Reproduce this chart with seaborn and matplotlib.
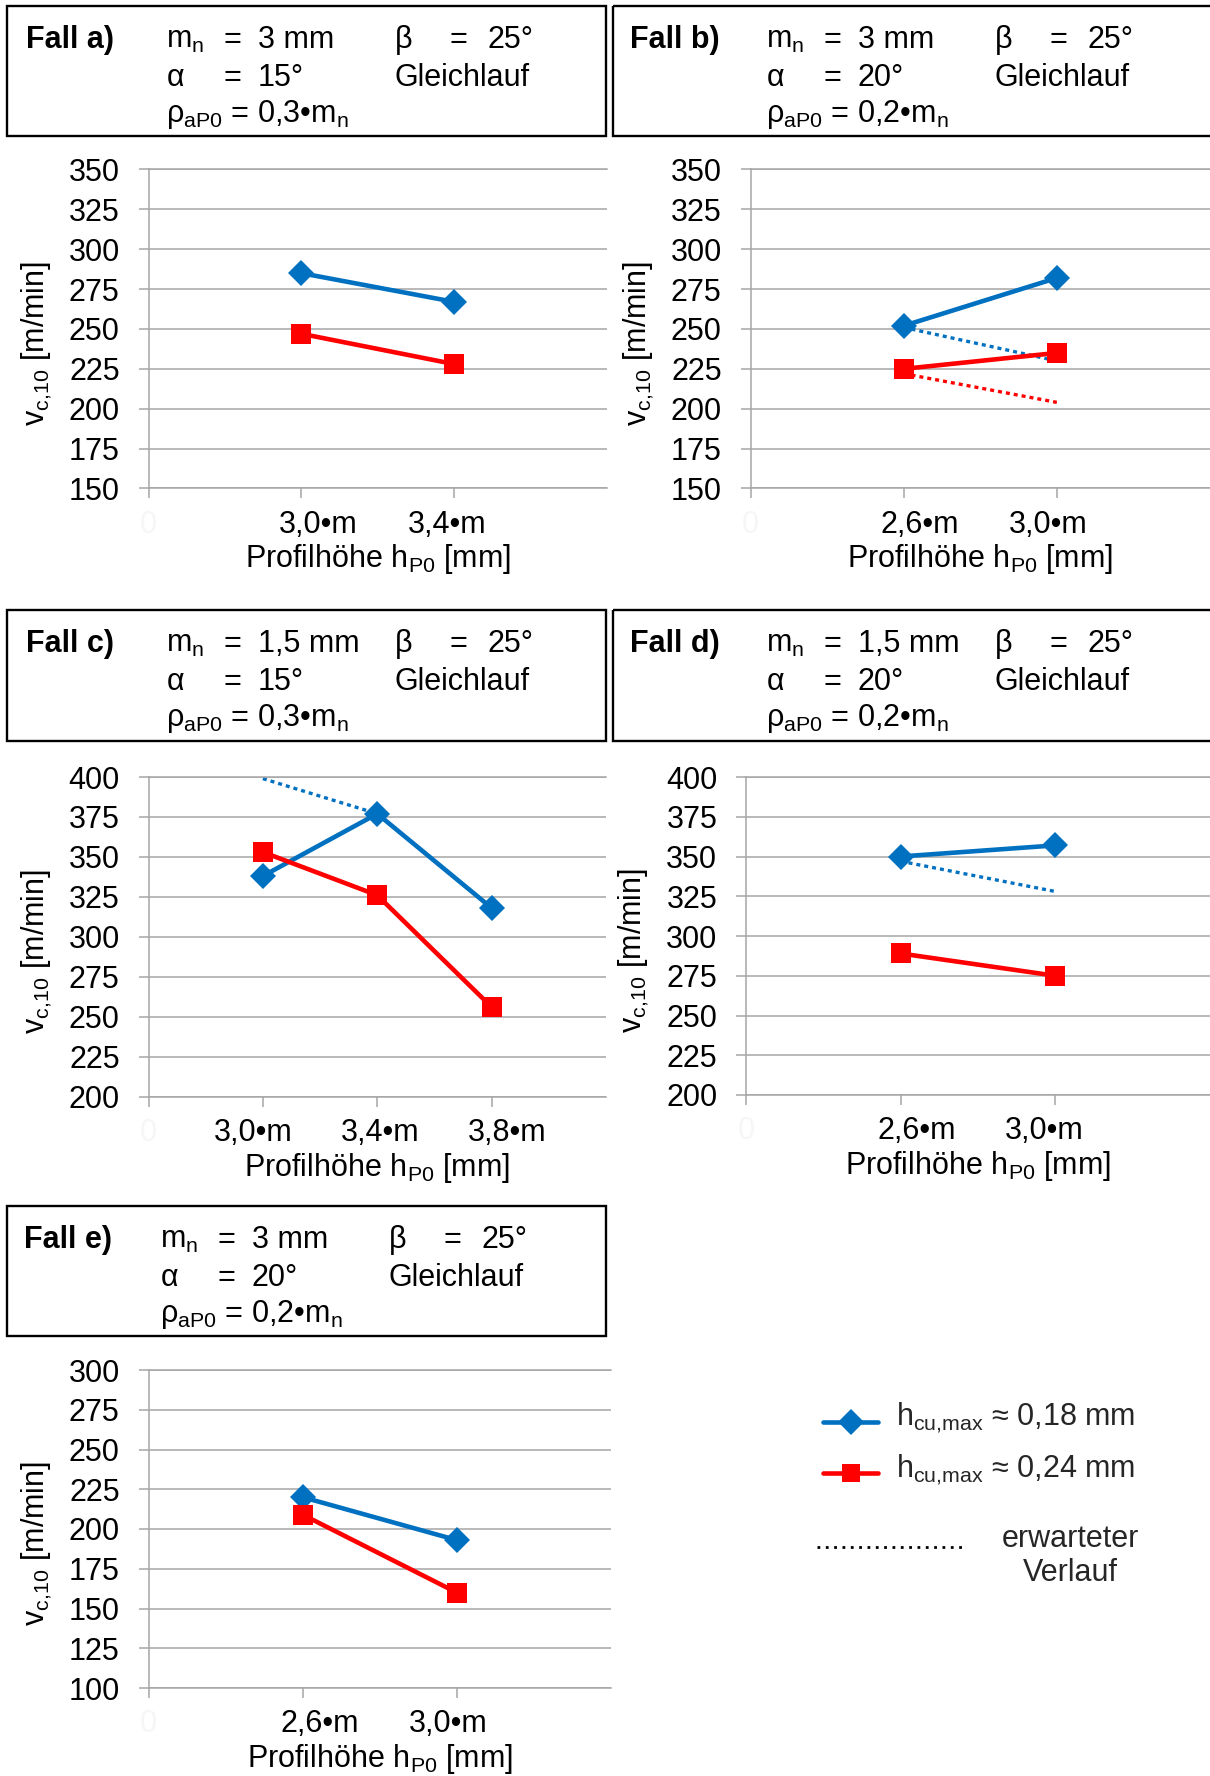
import numpy as np
import matplotlib
matplotlib.use("Agg")
import matplotlib.pyplot as plt
from matplotlib.patches import Rectangle
from matplotlib.transforms import ScaledTranslation
import seaborn as sns

# ---------------------------------------------------------------- data
case_a_ticks = ["3,0•m", "3,4•m"]
case_a_blue = [285, 267]
case_a_red = [247, 228]

case_b_ticks = ["2,6•m", "3,0•m"]
case_b_blue = [252, 282]
case_b_red = [225, 235]
case_b_blue_expected = [251, 230]
case_b_red_expected = [222, 204]

case_c_ticks = ["3,0•m", "3,4•m", "3,8•m"]
case_c_blue = [338, 377, 318]
case_c_red = [353, 326, 256]
case_c_blue_expected = [399, 377]

case_d_ticks = ["2,6•m", "3,0•m"]
case_d_blue = [350, 357]
case_d_red = [289, 275]
case_d_blue_expected = [347, 328]

case_e_ticks = ["2,6•m", "3,0•m"]
case_e_blue = [220, 193]
case_e_red = [209, 160]

y_range_ab = (150, 350)
y_range_cd = (200, 400)
y_range_e = (100, 300)

case_names = ["Fall a)", "Fall b)", "Fall c)", "Fall d)", "Fall e)"]
case_module = ["3 mm", "3 mm", "1,5 mm", "1,5 mm", "3 mm"]
case_alpha = ["15°", "20°", "15°", "20°", "20°"]
case_rho = ["0,3", "0,2", "0,3", "0,2", "0,2"]

legend_labels = [r"h$_\mathregular{cu{,}max}$ ≈ 0,18 mm",
                 r"h$_\mathregular{cu{,}max}$ ≈ 0,24 mm",
                 "erwarteter\nVerlauf"]

# ---------------------------------------------------------------- style
W, H, DPI = 1210, 1776, 100
BLUE, RED, GRID = "#0070C0", "#FF0000", "#A6A6A6"
TICK_FS, LABEL_FS, BOX_FS = 22, 22, 22
LW, DIAMOND_MS, SQUARE_MS = 3.3, 13.5, 15
DOTS = (0, (1.2, 1.2))

sns.set_theme(style="white")
plt.rcParams["font.family"] = ["Liberation Sans", "DejaVu Sans"]
plt.rcParams["mathtext.fontset"] = "custom"
plt.rcParams["mathtext.rm"] = "Liberation Sans"

fig = plt.figure(figsize=(W / DPI, H / DPI), dpi=DPI)
fig.patch.set_facecolor("white")

# pixel layout of each case: axes box (l, t, r, b), framed header (l, t, r, b)
layout = [
    dict(axes=(148.5, 169.5, 607, 488.5), box=(6.5, 6, 605.5, 136), dx=0, tick_dx=[17, -7]),
    dict(axes=(750.5, 169.5, 1210, 488.5), box=(612.5, 6, 1214, 136), dx=-6, tick_dx=[16, -9]),
    dict(axes=(148.5, 777, 606, 1096.5), box=(6.5, 609.5, 605.5, 741), dx=0, tick_dx=[-10, 3, 16]),
    dict(axes=(746, 777, 1210, 1095), box=(612.5, 609.5, 1214, 741), dx=-6, tick_dx=[16, -11]),
    dict(axes=(148.5, 1370, 611, 1688), box=(6.5, 1205.5, 605.5, 1336), dx=-6, tick_dx=[17, -9]),
]

cases = [
    (case_a_ticks, case_a_blue, case_a_red, [], y_range_ab),
    (case_b_ticks, case_b_blue, case_b_red,
     [(BLUE, case_b_blue_expected), (RED, case_b_red_expected)], y_range_ab),
    (case_c_ticks, case_c_blue, case_c_red, [(BLUE, case_c_blue_expected)], y_range_cd),
    (case_d_ticks, case_d_blue, case_d_red, [(BLUE, case_d_blue_expected)], y_range_cd),
    (case_e_ticks, case_e_blue, case_e_red, [], y_range_e),
]


def add_px_axes(l, t, r, b):
    return fig.add_axes([l / W, 1 - b / H, (r - l) / W, (b - t) / H])


def draw_case(ax, ax_px, ticks, blue, red, expected, yrange, tick_dx):
    n = len(ticks)
    pos = np.arange(1, n + 1)
    for color, vals in expected:
        sns.lineplot(x=pos[:len(vals)], y=vals, ax=ax, color=color,
                     linewidth=2.4, linestyle=DOTS, zorder=2)
    sns.lineplot(x=pos, y=blue, ax=ax, color=BLUE, linewidth=LW, marker="D",
                 markersize=DIAMOND_MS, markeredgewidth=0, zorder=3)
    sns.lineplot(x=pos, y=red, ax=ax, color=RED, linewidth=LW, marker="s",
                 markersize=SQUARE_MS, markeredgewidth=0, zorder=4)

    ax.set_xlim(0, n + 1)
    ax.set_ylim(*yrange)
    ax.set_yticks(np.arange(yrange[0], yrange[1] + 1, 25))
    ax.set_xticks(np.arange(0, n + 1))
    ax.set_xticklabels(["0"] + list(ticks))
    ax.set_axisbelow(True)
    ax.grid(axis="y", color=GRID, linewidth=1.1)
    ax.grid(axis="x", visible=False)
    for side in ("left", "bottom", "top"):
        ax.spines[side].set_visible(True)
        ax.spines[side].set_color(GRID)
        ax.spines[side].set_linewidth(1.1)
    ax.spines["right"].set_visible(False)
    ax.tick_params(axis="y", left=True, length=7.2, width=1.1, color=GRID,
                   pad=13.5, labelsize=TICK_FS, labelcolor="black")
    ax.tick_params(axis="x", bottom=True, length=7.2, width=1.1, color=GRID,
                   pad=8, labelsize=TICK_FS, labelcolor="black")
    labels = ax.get_xticklabels()
    labels[0].set_color("#F6F6F6")
    for lab, dx in zip(labels[1:], tick_dx):
        lab.set_transform(lab.get_transform() +
                          ScaledTranslation(dx / DPI, 0, fig.dpi_scale_trans))

    l, t, r, b = ax_px
    ax.set_ylabel(r"v$_\mathregular{c{,}10}$ [m/min]", fontsize=LABEL_FS, color="black")
    ax.yaxis.set_label_coords(-112 / (r - l), 0.455)
    ax.yaxis.label.set_va("center")
    ax.set_xlabel(r"Profilhöhe h$_\mathregular{P0}$ [mm]", fontsize=LABEL_FS, color="black")
    ax.xaxis.set_label_coords(0.5, -79 / (b - t))
    ax.xaxis.label.set_va("baseline")


axes = []
for lay, (ticks, blue, red, expected, yrange) in zip(layout, cases):
    ax = add_px_axes(*lay["axes"])
    draw_case(ax, lay["axes"], ticks, blue, red, expected, yrange, lay["tick_dx"])
    axes.append(ax)

# overlay in pixel coordinates for the framed headers and the legend
ov = fig.add_axes([0, 0, 1, 1])
ov.set_xlim(0, W)
ov.set_ylim(H, 0)
ov.set_axis_off()

for lay, name, mod, alpha, rho in zip(layout, case_names, case_module, case_alpha, case_rho):
    bl, bt, br, bb = lay["box"]
    ov.add_patch(Rectangle((bl, bt), br - bl, bb - bt, fill=False,
                           edgecolor="black", linewidth=1.7, clip_on=False))
    dx = lay["dx"]
    y1, y2, y3 = bt + 42, bt + 80, bt + 116
    kw = dict(fontsize=BOX_FS, va="baseline", color="black")
    ov.text(bl + 20 + dx / 2, y1, name, fontweight="bold", **kw)
    ov.text(bl + 160 + dx, y1, r"m$_\mathregular{n}$", **kw)
    ov.text(bl + 226 + dx, y1, "=", ha="center", **kw)
    ov.text(bl + 251 + dx, y1, mod, **kw)
    ov.text(bl + 388 + dx, y1, "β", **kw)
    ov.text(bl + 452 + dx, y1, "=", ha="center", **kw)
    ov.text(bl + 481 + dx, y1, "25°", **kw)
    ov.text(bl + 160 + dx, y2, "α", **kw)
    ov.text(bl + 226 + dx, y2, "=", ha="center", **kw)
    ov.text(bl + 251 + dx, y2, alpha, **kw)
    ov.text(bl + 388 + dx, y2, "Gleichlauf", **kw)
    ov.text(bl + 160 + dx, y3,
            r"ρ$_\mathregular{aP0}$ = " + rho + r"•m$_\mathregular{n}$", **kw)

# legend
ov.plot([823, 878], [1421.5, 1421.5], color=BLUE, linewidth=LW)
ov.plot([850.5], [1421.5], marker="D", markersize=DIAMOND_MS, color=BLUE, markeredgewidth=0)
ov.plot([823, 878], [1473, 1473], color=RED, linewidth=LW)
ov.plot([850.5], [1473], marker="s", markersize=13.5, color=RED, markeredgewidth=0)
ov.text(896, 1425, legend_labels[0], fontsize=LABEL_FS, va="baseline")
ov.text(896, 1477, legend_labels[1], fontsize=LABEL_FS, va="baseline")
ov.plot([817, 965], [1547, 1547], color="black", linewidth=2, linestyle=(0, (1, 2)))
ov.text(1070, 1556, legend_labels[2], fontsize=LABEL_FS, ha="center", va="center",
        multialignment="center", linespacing=1.2)

fig.savefig("out.png", dpi=DPI, facecolor="white")
